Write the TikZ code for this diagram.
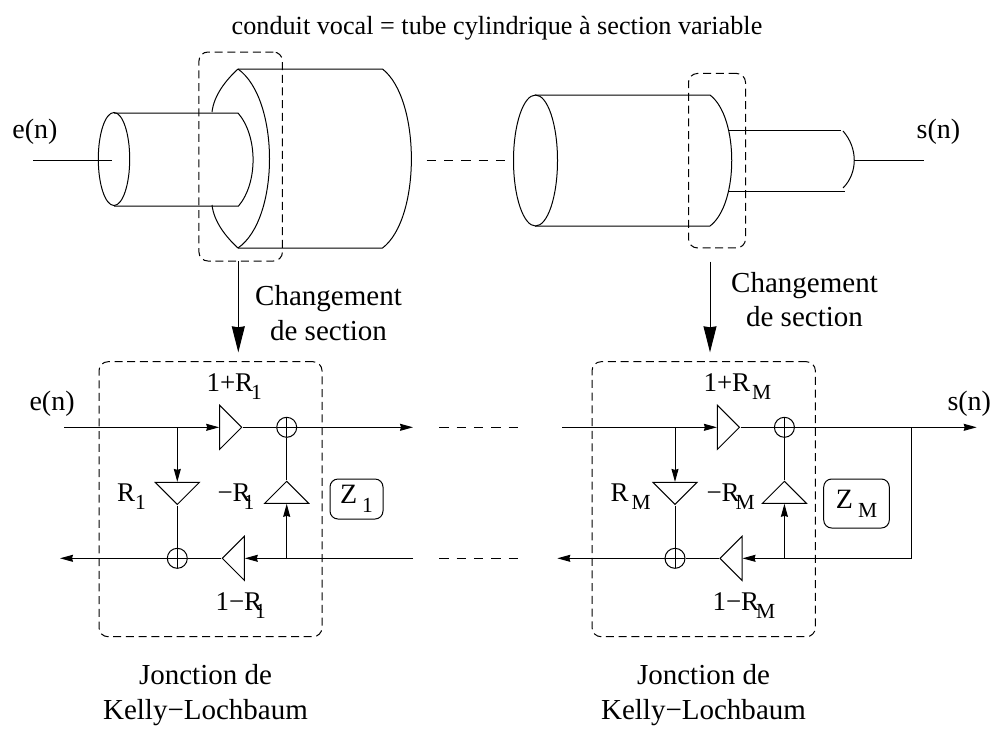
\documentclass[tikz,border=0pt]{standalone}
\usepackage{fontspec}
\setmainfont{Liberation Serif}
\usetikzlibrary{arrows.meta,shapes.geometric}
\newcommand{\lab}{\fontsize{28}{35}\selectfont}
\newcommand{\gainf}{\fontsize{27}{35}\selectfont}
\newcommand{\capf}{\fontsize{29}{34.5}\selectfont}
\newcommand{\idx}[3][8]{\kern#2pt\lower#1pt\hbox{\fontsize{21.5}{22}\selectfont #3}}
\tikzset{
  txt/.style={font=\lab,inner sep=0pt,align=center},
  gain/.style={font=\gainf,inner sep=0pt,anchor=base west},
  legend/.style={font=\capf,inner sep=0pt,align=center},
  dashbox/.style={draw,dash pattern=on 8pt off 4.7pt,rounded corners=9pt,inner sep=0pt},
  impbox/.style={draw,rounded corners=8pt,inner sep=0pt,font=\lab},
  amp/.style={draw,isosceles triangle,isosceles triangle stretches,
    minimum width=44pt,minimum height=22pt,inner sep=0pt},
  sumnode/.style={draw,circle,minimum size=20pt,inner sep=0pt,
    path picture={\draw (path picture bounding box.north) -- (path picture bounding box.south)
      (path picture bounding box.west) -- (path picture bounding box.east);}},
  sig/.style={-{Stealth[length=13pt,width=7pt,inset=1pt]}},
  bigsig/.style={-{Stealth[length=26pt,width=13pt,inset=1pt]}},
  gap/.style={dash pattern=on 9.3pt off 8pt}
}
\begin{document}
\begin{tikzpicture}[x=1pt,y=-1pt,line width=1pt]
      \useasboundingbox (0,0) rectangle (995,729);

      \node[inner sep=0pt,font=\fontsize{26.2}{30}\selectfont,anchor=base] (title) at (497,34) {conduit vocal = tube cylindrique à section variable};

      % tubes
      \draw (114,159) ellipse [x radius=15.7,y radius=46.5];
      \draw (114,113) -- (238,113) .. controls (258,136) and (258,183) .. (238.5,206) -- (114,206);
      \draw (212,112) .. controls (214,95) and (226,80) .. (238,69) -- (382.5,69)
            .. controls (421,99) and (421,219) .. (382.5,248) -- (238,248) .. controls (226,237) and (214,222) .. (212,205);
      \draw (238,69) .. controls (280,99) and (280,219) .. (238,248);
      \draw (535.5,160.5) ellipse [x radius=22,y radius=65.5];
      \draw (535,95) -- (710,95) .. controls (739,117) and (739,204) .. (710,226) -- (535,226);
      \draw (728,130.5) -- (841,130.5);
      \draw (728,191) -- (845,191);
      \draw (843,131) .. controls (858,148) and (858,173) .. (843,188);

      % signaux en haut
      \node[txt,anchor=base] (einA) at (35,138) {e(n)};
      \node[txt,anchor=base] (soutA) at (938.5,138) {s(n)};
      \coordinate (e0) at (33,160.5);
      \coordinate (e1) at (112,160.5);
      \coordinate (s0) at (854,160.5);
      \coordinate (s1) at (924,160.5);
      \coordinate (gt0) at (426.7,160.5);
      \coordinate (gt1) at (505.5,160.5);
      \draw (e0) -- (e1);
      \draw (s0) -- (s1);
      \draw[gap] (gt0) -- (gt1);

      \node[dashbox,minimum width=83.5pt,minimum height=209pt] (chgA) at (240.7,156.5) {};
      \node[dashbox,minimum width=57pt,minimum height=174.5pt] (chgB) at (717,160.7) {};

      % jonctions
      \node[dashbox,minimum width=223pt,minimum height=275pt] (jA) at (210.5,499.2) {};
      \node[dashbox,minimum width=223.3pt,minimum height=275pt] (jB) at (703.7,499.2) {};
      \coordinate (fA0) at (238.3,261);
      \coordinate (fA1) at (238.3,352.3);
      \coordinate (fB0) at (710,261.7);
      \coordinate (fB1) at (710,352.3);
      \draw[bigsig] (fA0) -- (fA1);
      \draw[bigsig] (fB0) -- (fB1);

      \node[legend,anchor=base] (chtA) at (328.5,340) {Changement\\de section};
      \node[legend,anchor=base] (chtB) at (804.5,326.7) {Changement\\de section};

      % jonction 1
      \node[amp,anchor=apex] (a1) at (243,427.3) {};
      \node[amp,anchor=apex,rotate=180] (b1) at (221,558.3) {};
      \node[amp,anchor=apex,rotate=-90] (c1) at (177.3,505.7) {};
      \node[amp,anchor=apex,rotate=90] (d1) at (286.7,480) {};
      \node[sumnode] (p1) at (286.7,427.3) {};
      \node[sumnode] (q1) at (177.3,558.3) {};
      \coordinate (i1) at (64,427.3);
      \coordinate (o1) at (413,427.3);
      \coordinate (r1) at (413,558.3);
      \coordinate (l1) at (60,558.3);
      \coordinate (t1) at (177.3,427.3);
      \coordinate (u1) at (286.7,558.3);

      \draw[sig] (i1) -- (a1.lower side);
      \draw (a1.apex) -- (p1);
      \draw[sig] (p1) -- (o1);
      \draw[sig] (r1) -- (b1.lower side);
      \draw (b1.apex) -- (q1);
      \draw[sig] (q1) -- (l1);
      \draw[sig] (t1) -- (c1.lower side);
      \draw (c1.apex) -- (q1);
      \draw[sig] (u1) -- (d1.lower side);
      \draw (d1.apex) -- (p1);

      \node[txt,anchor=base west] (eb) at (29,410) {e(n)};
      \node[gain] (ga1) at (206,391.7) {1+R\idx{-2}{1}};
      \node[gain] (gc1) at (116.7,501.7) {R\idx{0}{1}};
      \node[gain] (gd1) at (217,501.7) {−R\idx{-7}{1}};
      \node[gain] (gb1) at (215,610) {1−R\idx{-7}{1}};
      \node[impbox,minimum width=53pt,minimum height=40pt] (z1) at (356.5,499) {Z\idx[9]{5}{1}};

      % jonction M
      \node[amp,anchor=apex] (aM) at (740.7,427.3) {};
      \node[amp,anchor=apex,rotate=180] (bM) at (718.7,558.3) {};
      \node[amp,anchor=apex,rotate=-90] (cM) at (675,505.7) {};
      \node[amp,anchor=apex,rotate=90] (dM) at (784.4,480) {};
      \node[sumnode] (pM) at (784.4,427.3) {};
      \node[sumnode] (qM) at (675,558.3) {};
      \coordinate (iM) at (562,427.3);
      \coordinate (oM) at (976.7,427.3);
      \coordinate (rM) at (911,558.3);
      \coordinate (lM) at (557.3,558.3);
      \coordinate (tM) at (675,427.3);
      \coordinate (uM) at (784.4,558.3);
      \coordinate (vM) at (911,427.3);

      \draw[sig] (iM) -- (aM.lower side);
      \draw (aM.apex) -- (pM);
      \draw[sig] (pM) -- (oM);
      \draw[sig] (vM) -- (rM) -- (bM.lower side);
      \draw (bM.apex) -- (qM);
      \draw[sig] (qM) -- (lM);
      \draw[sig] (tM) -- (cM.lower side);
      \draw (cM.apex) -- (qM);
      \draw[sig] (uM) -- (dM.lower side);
      \draw (dM.apex) -- (pM);

      \node[txt,anchor=base west] (sb) at (947,410) {s(n)};
      \node[gain] (gaM) at (703,391.7) {1+R\idx{2}{M}};
      \node[gain] (gcM) at (610,501.7) {R\idx{3}{M}};
      \node[gain] (gdM) at (706,501.7) {−R\idx{-4}{M}};
      \node[gain] (gbM) at (712,610) {1−R\idx{-3}{M}};
      \node[impbox,minimum width=65.6pt,minimum height=49pt] (zM) at (856.5,503.5) {Z\idx[9]{5}{M}};

      % pointilles entre les jonctions
      \coordinate (h0) at (439.3,427.3);
      \coordinate (h1) at (518.3,427.3);
      \coordinate (k0) at (439.3,558.3);
      \coordinate (k1) at (518.3,558.3);
      \draw[gap] (h0) -- (h1);
      \draw[gap] (k0) -- (k1);

      \node[legend,anchor=base] (nA) at (205.5,719) {Jonction de\\Kelly−Lochbaum};
      \node[legend,anchor=base] (nB) at (703.5,719) {Jonction de\\Kelly−Lochbaum};
\end{tikzpicture}
\end{document}
